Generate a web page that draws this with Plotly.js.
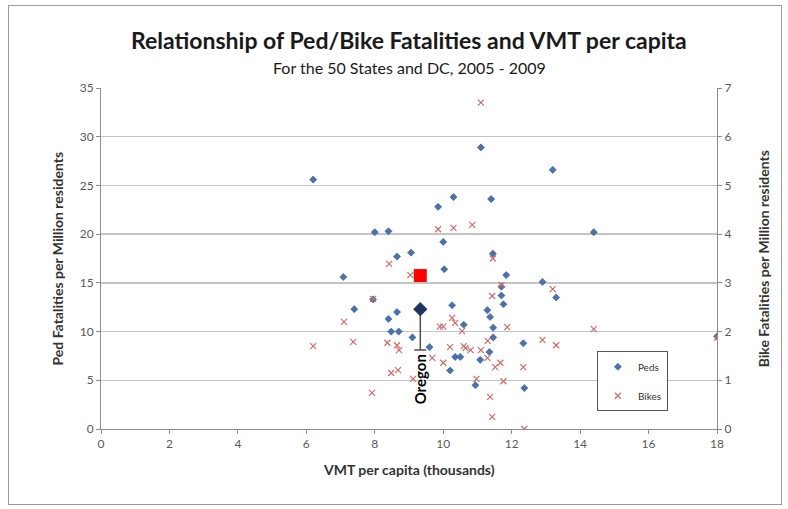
<!DOCTYPE html>
<html>
<head>
<meta charset="utf-8">
<script src="https://cdn.plot.ly/plotly-3.0.1.min.js"></script>
<style>
  html, body { margin: 0; padding: 0; background: #fff; }
  #chart { width: 788px; height: 509px; }
  #frame { position: absolute; left: 8px; top: 5px; width: 772px; height: 498px;
           border: 1px solid #9a9a9a; pointer-events: none; }
</style>
</head>
<body>
<div id="chart"></div>
<div id="frame"></div>
<script>
// Pedestrian fatalities per million residents vs VMT per capita (thousands)
const pedVmt = [6.2, 7.08, 7.4, 7.95, 8.0, 8.4, 8.4, 8.48, 8.65, 8.65, 8.7, 9.06, 9.1, 9.6,
  9.85, 10.0, 10.03, 10.2, 10.26, 10.3, 10.35, 10.5, 10.6, 10.94, 11.08, 11.1, 11.29, 11.35,
  11.37, 11.4, 11.45, 11.46, 11.46, 11.7, 11.7, 11.76, 11.84, 12.34, 12.37, 12.9, 13.2, 13.3,
  14.4, 18.0];
const pedRate = [25.6, 15.6, 12.3, 13.3, 20.2, 20.3, 11.3, 10.0, 17.7, 12.0, 10.0, 18.1, 9.4, 8.4,
  22.8, 19.2, 16.4, 6.0, 12.7, 23.8, 7.4, 7.4, 10.7, 4.5, 7.1, 28.9, 12.2, 7.9,
  11.5, 23.6, 18.0, 10.4, 9.4, 14.6, 13.7, 12.8, 15.8, 8.8, 4.2, 15.1, 26.6, 13.5,
  20.2, 9.5];

// Bicycle fatalities per million residents vs VMT per capita (thousands)
const bikeVmt = [6.2, 7.1, 7.37, 7.92, 7.95, 8.37, 8.42, 8.48, 8.65, 8.68, 8.71, 9.04, 9.12, 9.68,
  9.85, 9.9, 10.0, 10.0, 10.2, 10.26, 10.3, 10.35, 10.55, 10.6, 10.65, 10.8, 10.85, 10.97,
  11.1, 11.1, 11.29, 11.3, 11.37, 11.43, 11.43, 11.45, 11.52, 11.67, 11.7, 11.76, 11.87,
  12.34, 12.37, 12.9, 13.2, 13.3, 14.4, 18.0];
const bikeRate = [1.7, 2.2, 1.79, 0.74, 2.67, 1.77, 3.39, 1.15, 1.72, 1.21, 1.62, 3.16, 1.03, 1.46,
  4.1, 2.1, 2.1, 1.36, 1.68, 2.28, 4.13, 2.18, 2.01, 1.7, 1.66, 1.62, 4.19, 1.03,
  6.7, 1.62, 1.46, 1.81, 0.66, 2.73, 0.25, 3.5, 1.27, 1.36, 2.96, 0.98, 2.09,
  1.27, 0.0, 1.83, 2.87, 1.72, 2.05, 1.87];

// Oregon, highlighted
const oregonVmt = [9.33];
const oregonPed = [12.3];
const oregonPedLow = [8.1];
const oregonBike = [3.15];
const oregonLabel = 'Oregon';

const xTicks = [0, 2, 4, 6, 8, 10, 12, 14, 16, 18];

const FONT = 'Lato, "Open Sans", sans-serif';
const tickFont = { family: FONT, size: 12, color: '#595959' };

const traces = [
  {
    x: pedVmt, y: pedRate, name: 'Peds', type: 'scatter', mode: 'markers', legendgroup: 'p',
    marker: { symbol: 'diamond', size: 5.5, color: '#4a72b0', line: { color: '#2f4f85', width: 0.5 } }
  },
  {
    x: bikeVmt, y: bikeRate, name: 'Bikes', type: 'scatter', mode: 'markers', yaxis: 'y2', legendgroup: 'b',
    marker: { symbol: 'x-thin', size: 6, color: '#cc6b6b', line: { color: '#cf6a67', width: 1.2 } }
  },
  {
    x: oregonVmt, y: oregonPed, type: 'scatter', mode: 'markers', showlegend: false,
    marker: { symbol: 'diamond', size: 11, color: '#1f3460' },
    error_y: {
      type: 'data', symmetric: false,
      array: [0], arrayminus: [oregonPed[0] - oregonPedLow[0]],
      color: '#505050', thickness: 1.5, width: 6
    }
  },
  {
    x: oregonVmt, y: oregonBike, type: 'scatter', mode: 'markers', yaxis: 'y2', showlegend: false,
    marker: { symbol: 'square', size: 13, color: '#ff0000' }
  }
];

const layout = {
  width: 788, height: 509,
  margin: { l: 101, r: 71, t: 88, b: 80 },
  paper_bgcolor: '#ffffff', plot_bgcolor: '#ffffff',
  font: { family: FONT, color: '#222' },
  showlegend: true,
  legend: {
    x: 0.805, y: 0.228, xanchor: 'left', yanchor: 'top',
    bgcolor: '#ffffff', bordercolor: '#555555', borderwidth: 1,
    font: { family: FONT, size: 10, color: '#333' },
    itemwidth: 30, tracegroupgap: 10
  },
  xaxis: {
    range: [0, 18], tickvals: xTicks, ticktext: xTicks.map(String),
    showgrid: false, zeroline: false,
    showline: true, linecolor: '#8c8c8c', linewidth: 1,
    ticks: 'outside', ticklen: 4, tickcolor: '#8c8c8c',
    tickfont: tickFont
  },
  yaxis: {
    range: [0, 35], dtick: 5, showgrid: true, gridcolor: '#c4c4c4', gridwidth: 1.5,
    zeroline: false, showline: true, linecolor: '#8c8c8c', linewidth: 1,
    ticks: 'outside', ticklen: 4, tickcolor: '#8c8c8c',
    tickfont: tickFont
  },
  yaxis2: {
    range: [0, 7], dtick: 1, overlaying: 'y', side: 'right', showgrid: false,
    zeroline: false, showline: true, linecolor: '#8c8c8c', linewidth: 1,
    ticks: 'outside', ticklen: 4, tickcolor: '#8c8c8c',
    tickfont: tickFont
  },
  annotations: [
    {
      text: '<b>Relationship of Ped/Bike Fatalities and VMT per capita</b>',
      xref: 'paper', yref: 'paper', x: 0.5, y: 1.141, xanchor: 'center', yanchor: 'middle',
      showarrow: false, font: { family: FONT, size: 23, color: '#1a1a1a' }
    },
    {
      text: 'For the 50 States and DC, 2005 - 2009',
      xref: 'paper', yref: 'paper', x: 0.5, y: 1.059, xanchor: 'center', yanchor: 'middle',
      showarrow: false, font: { family: FONT, size: 16, color: '#1a1a1a' }
    },
    {
      text: '<b>VMT per capita (thousands)</b>',
      xref: 'paper', yref: 'paper', x: 0.5, y: -0.12, xanchor: 'center', yanchor: 'middle',
      showarrow: false, font: { family: FONT, size: 14, color: '#333' }
    },
    {
      text: '<b>Ped Fatalities per Million residents</b>',
      xref: 'paper', yref: 'paper', x: -0.0714, y: 0.5, xanchor: 'center', yanchor: 'middle',
      textangle: -90, showarrow: false, font: { family: FONT, size: 14, color: '#333' }
    },
    {
      text: '<b>Bike Fatalities per Million residents</b>',
      xref: 'paper', yref: 'paper', x: 1.076, y: 0.5, xanchor: 'center', yanchor: 'middle',
      textangle: -90, showarrow: false, font: { family: FONT, size: 14, color: '#333' }
    },
    {
      text: '<b>' + oregonLabel + '</b>',
      xref: 'x', yref: 'y', x: oregonVmt[0], y: oregonPedLow[0], xanchor: 'center', yanchor: 'top',
      yshift: -2, textangle: -90, showarrow: false, font: { family: FONT, size: 15, color: '#000' }
    }
  ]
};

Plotly.newPlot('chart', traces, layout, { displayModeBar: false, staticPlot: true });
</script>
</body>
</html>
